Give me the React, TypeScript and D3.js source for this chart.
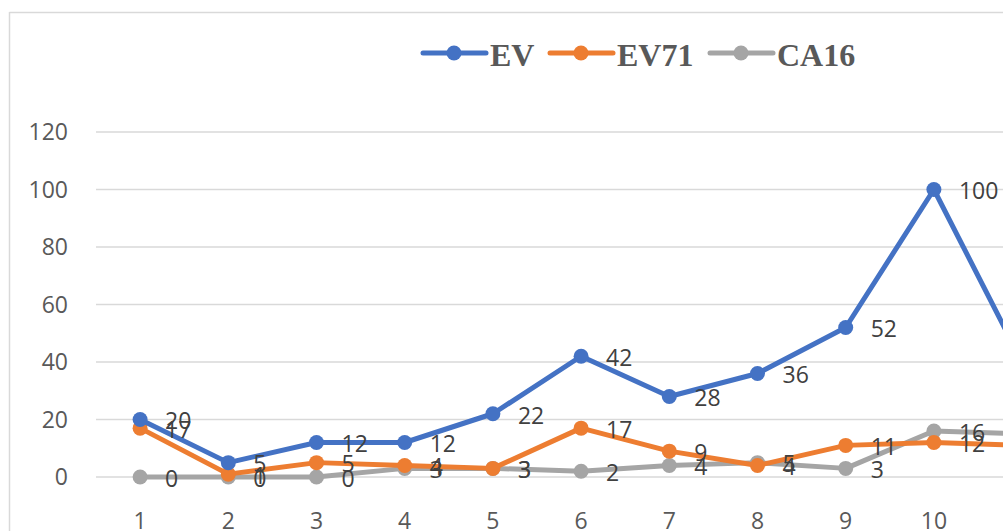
import React from "react";
import * as d3 from "d3";

const categories = ["1", "2", "3", "4", "5", "6", "7", "8", "9", "10", "11"];
const evValues = [20, 5, 12, 12, 22, 42, 28, 36, 52, 100, 40];
const ev71Values = [17, 1, 5, 4, 3, 17, 9, 4, 11, 12, 11];
const ca16Values = [0, 0, 0, 3, 3, 2, 4, 5, 3, 16, 15];
const yTicks = [0, 20, 40, 60, 80, 100, 120];

const seriesList = [
  { name: "EV", values: evValues, color: "#4472C4" },
  { name: "EV71", values: ev71Values, color: "#ED7D31" },
  { name: "CA16", values: ca16Values, color: "#A5A5A5" },
];

const W = 1003;
const H = 531;
const plotLeft = 96;
const band = 88.2;
const plotTop = 132;
const plotBottom = 477;

export default function App() {
  const x = d3
    .scalePoint<string>()
    .domain(categories)
    .range([plotLeft, plotLeft + categories.length * band])
    .padding(0.5);
  const y = d3.scaleLinear().domain([0, 120]).range([plotBottom, plotTop]);
  const line = d3
    .line<number>()
    .x((_, i) => x(categories[i]) as number)
    .y((d) => y(d));

  const labelFont = "'Open Sans', 'Liberation Sans', Arial, sans-serif";
  const legendItems = [
    { name: "EV", color: "#4472C4", x0: 423, tx: 490 },
    { name: "EV71", color: "#ED7D31", x0: 550, tx: 617 },
    { name: "CA16", color: "#A5A5A5", x0: 710, tx: 777 },
  ];

  return (
    <div style={{ position: "absolute", left: 0, top: 0 }}>
      <svg width={W} height={H} style={{ display: "block", background: "#fff" }}>
        <rect x={0} y={0} width={W} height={H} fill="#fff" />
        {/* chart frame */}
        <line x1={9.5} x2={9.5} y1={12} y2={H} stroke="#d9d9d9" strokeWidth={1.5} />
        <line x1={9.5} x2={W} y1={12.5} y2={12.5} stroke="#d9d9d9" strokeWidth={1.5} />

        {/* gridlines */}
        {yTicks.map((t) => (
          <line
            key={t}
            x1={plotLeft}
            x2={plotLeft + categories.length * band}
            y1={y(t)}
            y2={y(t)}
            stroke="#d9d9d9"
            strokeWidth={1.3}
          />
        ))}

        {/* y axis labels */}
        {yTicks.map((t) => (
          <text
            key={t}
            x={68}
            y={y(t)}
            dy="0.36em"
            textAnchor="end"
            fontFamily={labelFont}
            fontSize={23}
            fill="#595959"
          >
            {t}
          </text>
        ))}

        {/* x axis labels */}
        {categories.map((c) => (
          <text
            key={c}
            x={x(c)}
            y={521}
            dy="0.36em"
            textAnchor="middle"
            fontFamily={labelFont}
            fontSize={23}
            fill="#595959"
          >
            {c}
          </text>
        ))}

        {/* series lines and markers */}
        {seriesList
          .slice()
          .reverse()
          .map((s) => (
            <g key={s.name}>
              <path
                d={line(s.values) || ""}
                fill="none"
                stroke={s.color}
                strokeWidth={5}
                strokeLinejoin="round"
                strokeLinecap="round"
              />
              {s.values.map((v, i) => (
                <circle key={i} cx={x(categories[i])} cy={y(v)} r={7.5} fill={s.color} />
              ))}
            </g>
          ))}

        {/* value labels */}
        {seriesList.map((s) => (
          <g key={s.name + "-labels"}>
            {s.values.map((v, i) => (
              <text
                key={i}
                x={(x(categories[i]) as number) + 25}
                y={y(v) + 1.5}
                dy="0.36em"
                fontFamily={labelFont}
                fontSize={23}
                fill="#404040"
              >
                {v}
              </text>
            ))}
          </g>
        ))}

        {/* legend */}
        {legendItems.map((l) => (
          <g key={l.name}>
            <line x1={l.x0} x2={l.x0 + 63} y1={53} y2={53} stroke={l.color} strokeWidth={5} strokeLinecap="round" />
            <circle cx={l.x0 + 31} cy={53} r={7.5} fill={l.color} />
            <text
              x={l.tx}
              y={65.5}
              fontFamily="'Liberation Serif', 'Times New Roman', serif"
              fontWeight="bold"
              fontSize={32}
              fill="#595959"
            >
              {l.name}
            </text>
          </g>
        ))}
      </svg>
    </div>
  );
}
